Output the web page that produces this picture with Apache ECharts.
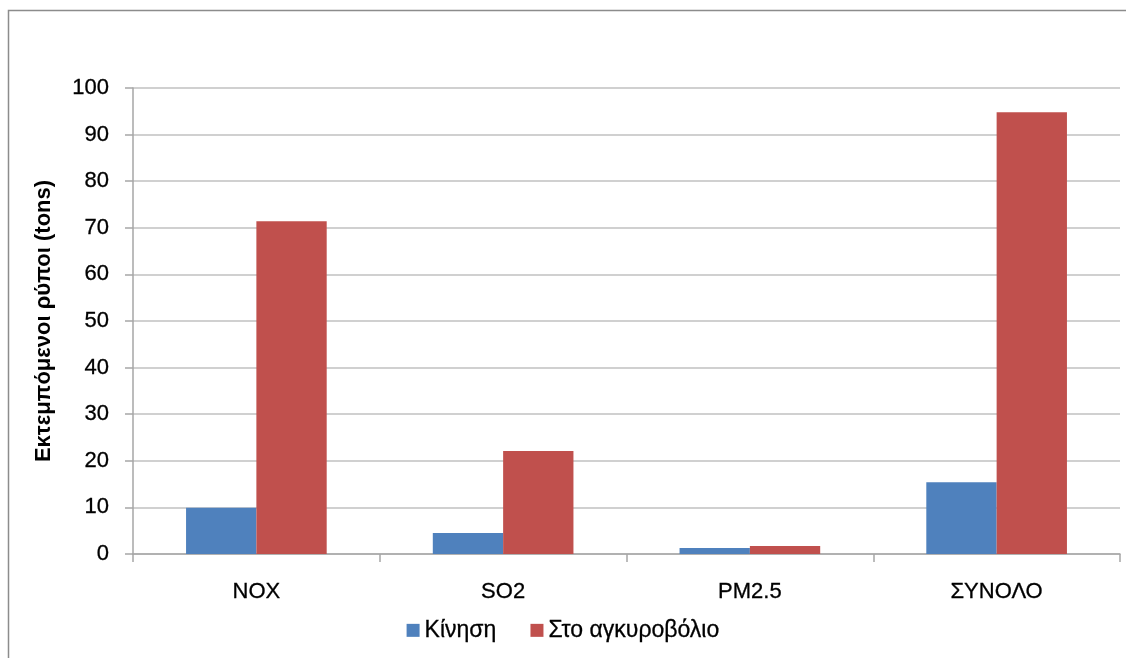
<!DOCTYPE html>
<html>
<head>
<meta charset="utf-8">
<script src="https://cdn.jsdelivr.net/npm/echarts@6/dist/echarts.min.js"></script>
<style>
  html, body { margin: 0; padding: 0; background: #ffffff; }
  #chart { width: 1126px; height: 658px; }
</style>
</head>
<body>
<div id="chart"></div>
<script>
// Emission categories and values (tons)
const categories = ['NOX', 'SO2', 'PM2.5', 'ΣΥΝΟΛΟ'];
const movingValues = [9.9, 4.5, 1.3, 15.4];
const anchoredValues = [71.4, 22.1, 1.7, 94.8];
const seriesNames = ['Κίνηση', 'Στο αγκυροβόλιο'];
const yAxisTitle = 'Εκτεμπόμενοι ρύποι (tons)';

const FONT = '"Liberation Sans", Arial, sans-serif';

const chart = echarts.init(document.getElementById('chart'), null, { renderer: 'canvas' });

chart.setOption({
  animation: false,
  backgroundColor: '#ffffff',
  color: ['#4F81BD', '#C0504D'],
  graphic: [{
    type: 'rect',
    shape: { x: 8.5, y: 10.5, width: 1130, height: 660 },
    style: { fill: 'none', stroke: '#8c8c8c', lineWidth: 1.5 },
    silent: true
  }],
  grid: { left: 133, right: 6, top: 88, bottom: 104, containLabel: false },
  legend: {
    bottom: 11,
    left: 'center',
    itemWidth: 13,
    itemHeight: 13,
    itemGap: 34,
    icon: 'rect',
    textStyle: { fontFamily: FONT, fontSize: 23, color: '#000', textBorderColor: '#000', textBorderWidth: 0.3 },
    data: seriesNames
  },
  xAxis: {
    type: 'category',
    data: categories,
    axisLine: { lineStyle: { color: '#a6a6a6', width: 1.5 } },
    axisTick: { show: true, alignWithLabel: false, length: 8, lineStyle: { color: '#a6a6a6', width: 1.5 } },
    axisLabel: { margin: 27, fontFamily: FONT, fontSize: 22, color: '#000', textBorderColor: '#000', textBorderWidth: 0.3 },
    splitLine: { show: false }
  },
  yAxis: {
    type: 'value',
    min: 0,
    max: 100,
    interval: 10,
    name: yAxisTitle,
    nameLocation: 'middle',
    nameGap: 78,
    nameTextStyle: { fontFamily: FONT, fontSize: 22, fontWeight: 'bold', color: '#000' },
    axisLine: { show: true, lineStyle: { color: '#a6a6a6', width: 1.5 } },
    axisTick: { show: true, length: 8, lineStyle: { color: '#a6a6a6', width: 1.5 } },
    axisLabel: { margin: 24, fontFamily: FONT, fontSize: 22, color: '#000', textBorderColor: '#000', textBorderWidth: 0.3 },
    splitLine: { show: true, lineStyle: { color: '#c0c0c0', width: 1.5 } }
  },
  series: [
    {
      name: seriesNames[0],
      type: 'bar',
      data: movingValues,
      barGap: '0%',
      barCategoryGap: '43%'
    },
    {
      name: seriesNames[1],
      type: 'bar',
      data: anchoredValues,
      barGap: '0%',
      barCategoryGap: '43%'
    }
  ]
});
</script>
</body>
</html>
